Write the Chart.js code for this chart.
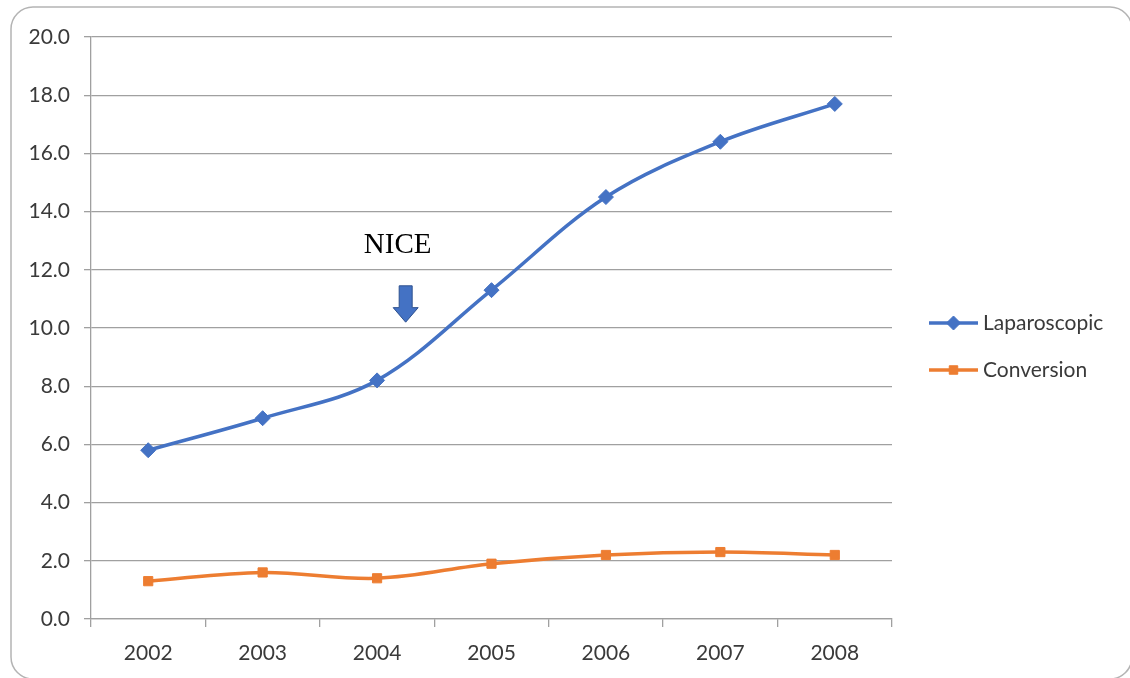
<!DOCTYPE html>
<html>
<head>
<meta charset="utf-8">
<script src="https://cdn.jsdelivr.net/npm/chart.js@4/dist/chart.umd.min.js"></script>
<style>
  html, body { margin: 0; padding: 0; background: #ffffff; }
  #wrap { width: 1130px; height: 678px; position: relative; }
</style>
</head>
<body>
<div id="wrap"><canvas id="chart" width="1130" height="678"></canvas></div>
<script>
// Yearly rates (%) of laparoscopic procedures and conversions
const years = ['2002', '2003', '2004', '2005', '2006', '2007', '2008'];
const laparoscopic = [5.8, 6.9, 8.2, 11.3, 14.5, 16.4, 17.7];
const conversion = [1.3, 1.6, 1.4, 1.9, 2.2, 2.3, 2.2];
const seriesNames = ['Laparoscopic', 'Conversion'];
const seriesColors = ['#4472C4', '#ED7D31'];
const seriesMarkers = ['rectRot', 'rect'];

// NICE guidance marker: label and arrow placed in data units (category index, value)
const noteText = 'NICE';
const noteLabelAt = { x: 2.18, y: 12.85 };
const noteArrowAt = { x: 2.25, yTop: 11.45, yTip: 10.2 };

const axisFont = { family: 'Lato, "Open Sans", sans-serif', size: 21 };
const textColor = '#3a3a3a';
const gridColor = '#a0a0a0';

// rounded outer frame
const framePlugin = {
  id: 'frame',
  beforeDraw(chart) {
    const ctx = chart.ctx;
    ctx.save();
    ctx.fillStyle = '#ffffff';
    ctx.fillRect(0, 0, chart.width, chart.height);
    ctx.strokeStyle = '#b4b4b4';
    ctx.lineWidth = 1.5;
    ctx.beginPath();
    ctx.roundRect(11, 7, chart.width - 9, chart.height - 6, 22);
    ctx.stroke();
    ctx.restore();
  }
};

// NICE label with a block arrow pointing down at the curve
const notePlugin = {
  id: 'note',
  afterDatasetsDraw(chart) {
    const { ctx, scales: { x, y } } = chart;
    ctx.save();
    ctx.fillStyle = '#000000';
    ctx.font = '29px "Liberation Serif", "Times New Roman", serif';
    ctx.textAlign = 'center';
    ctx.textBaseline = 'middle';
    ctx.fillText(noteText, x.getPixelForValue(noteLabelAt.x), y.getPixelForValue(noteLabelAt.y));

    const cx = x.getPixelForValue(noteArrowAt.x);
    const top = y.getPixelForValue(noteArrowAt.yTop);
    const tip = y.getPixelForValue(noteArrowAt.yTip);
    const neck = top + (tip - top) * 0.6;
    const shaftHalf = 6.5, headHalf = 12.5;
    ctx.beginPath();
    ctx.moveTo(cx - shaftHalf, top);
    ctx.lineTo(cx + shaftHalf, top);
    ctx.lineTo(cx + shaftHalf, neck);
    ctx.lineTo(cx + headHalf, neck);
    ctx.lineTo(cx, tip);
    ctx.lineTo(cx - headHalf, neck);
    ctx.lineTo(cx - shaftHalf, neck);
    ctx.closePath();
    ctx.fillStyle = '#4472C4';
    ctx.fill();
    ctx.strokeStyle = '#2F528F';
    ctx.lineWidth = 1;
    ctx.stroke();
    ctx.restore();
  }
};

// legend on the right: line sample with marker, then series name
const legendPlugin = {
  id: 'sideLegend',
  afterDraw(chart) {
    const { ctx, chartArea } = chart;
    ctx.save();
    const x0 = chartArea.right + 37;
    const lineLen = 49;
    const rows = [chartArea.top + 286, chartArea.top + 333];
    chart.data.datasets.forEach((ds, i) => {
      const yy = rows[i];
      ctx.strokeStyle = ds.borderColor;
      ctx.lineWidth = ds.borderWidth;
      ctx.beginPath();
      ctx.moveTo(x0, yy);
      ctx.lineTo(x0 + lineLen, yy);
      ctx.stroke();
      ctx.fillStyle = ds.pointBackgroundColor;
      ctx.strokeStyle = ds.pointBorderColor;
      ctx.lineWidth = 1;
      Chart.helpers.drawPoint(ctx, {
        pointStyle: ds.pointStyle,
        radius: ds.pointRadius - 0.5,
        rotation: 0,
        borderWidth: 1
      }, x0 + lineLen / 2, yy);
      ctx.fillStyle = textColor;
      ctx.font = '21px Lato, "Open Sans", sans-serif';
      ctx.textAlign = 'left';
      ctx.textBaseline = 'middle';
      ctx.fillText(ds.label, x0 + lineLen + 5, yy);
    });
    ctx.restore();
  }
};

function makeSeries(i, values) {
  return {
    label: seriesNames[i],
    data: values,
    borderColor: seriesColors[i],
    backgroundColor: seriesColors[i],
    borderWidth: 3.5,
    pointStyle: seriesMarkers[i],
    pointRadius: i === 0 ? 7.5 : 6.5,
    pointBackgroundColor: seriesColors[i],
    pointBorderColor: seriesColors[i],
    pointBorderWidth: 1,
    tension: 0.35,
    fill: false
  };
}

new Chart(document.getElementById('chart'), {
  type: 'line',
  data: {
    labels: years,
    datasets: [makeSeries(0, laparoscopic), makeSeries(1, conversion)]
  },
  options: {
    responsive: false,
    animation: false,
    devicePixelRatio: 1,
    layout: { padding: { left: 0, top: 37, right: 238, bottom: 0 } },
    plugins: {
      legend: { display: false },
      tooltip: { enabled: false }
    },
    scales: {
      x: {
        type: 'category',
        offset: true,
        grid: {
          offset: true,
          drawOnChartArea: false,
          drawTicks: true,
          tickLength: 8,
          color: gridColor,
          lineWidth: 1.3
        },
        border: { display: true, color: gridColor, width: 1.3 },
        ticks: { color: textColor, font: axisFont, padding: 14, maxRotation: 0 },
        afterFit(scale) { scale.height = 59; }
      },
      y: {
        min: 0,
        max: 20,
        grid: { color: gridColor, lineWidth: 1.3, tickLength: 7 },
        border: { display: true, color: gridColor, width: 1.3 },
        ticks: {
          stepSize: 2,
          color: textColor,
          font: axisFont,
          padding: 14,
          callback: v => Number(v).toFixed(1)
        },
        afterFit(scale) { scale.width = 91; }
      }
    }
  },
  plugins: [framePlugin, notePlugin, legendPlugin]
});
</script>
</body>
</html>
